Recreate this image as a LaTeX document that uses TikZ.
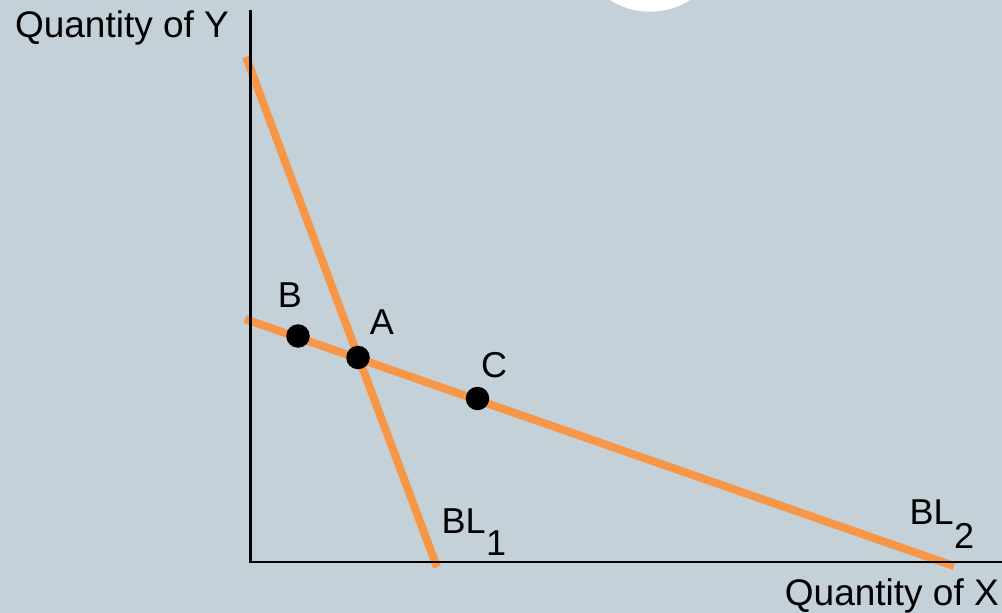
\documentclass[tikz,border=0pt]{standalone}
\usepackage{fontspec}
\setmainfont{Liberation Sans}
\definecolor{bgcol}{RGB}{197,209,216}
\definecolor{budget}{RGB}{247,150,70}
\begin{document}
\begin{tikzpicture}[x=1pt,y=-1pt,
  axis/.style={draw=black,line width=2.6pt},
  budgetline/.style={draw=budget,line width=8pt,line cap=butt},
  dot/.style={circle,fill=black,inner sep=0pt,minimum size=23.5pt},
  lbl/.style={inner sep=0pt,font=\fontsize{36}{40}\selectfont},
  axlbl/.style={inner sep=0pt,font=\fontsize{37}{40}\selectfont}]
\useasboundingbox (0,0) rectangle (1002,613);
\fill[bgcol] (0,0) rectangle (1002,613);
\begin{scope}
\clip (0,0) rectangle (1002,613);
\fill[white] (650,-62.5) circle[radius=74.2pt];
\end{scope}
% coordinates
\coordinate (origin) at (250.5,562);
\coordinate (ytop) at (250.5,10);
\coordinate (xend) at (1002,562);
\coordinate (bl1top) at (246,57);
\coordinate (bl1bot) at (437,567);
\coordinate (bl2left) at (245,319);
\coordinate (bl2right) at (954,566);
% budget lines
\draw[budgetline] (bl1top) -- (bl1bot);
\draw[budgetline] (bl2left) -- (bl2right);
% axes
\draw[axis] (ytop) -- (origin) -- (xend);
% points
\node[dot] (B) at (298,336) {};
\node[dot] (A) at (358,357.5) {};
\node[dot] (C) at (477.5,398.5) {};
% labels
\node[lbl,anchor=base] (lB) at (290,307) {B};
\node[lbl,anchor=base] (lA) at (382,334) {A};
\node[lbl,anchor=base] (lC) at (494,377) {C};
\node[lbl,anchor=base west] (lBL1) at (441.5,533) {BL\kern0.5pt\raisebox{-22pt}{1}};
\node[lbl,anchor=base west] (lBL2) at (909.5,524) {BL\kern0.5pt\raisebox{-24pt}{2}};
\node[axlbl,anchor=base] (ylab) at (122,37) {Quantity of Y};
\node[axlbl,anchor=base east] (xlab) at (999,605) {Quantity of X};
\end{tikzpicture}
\end{document}
